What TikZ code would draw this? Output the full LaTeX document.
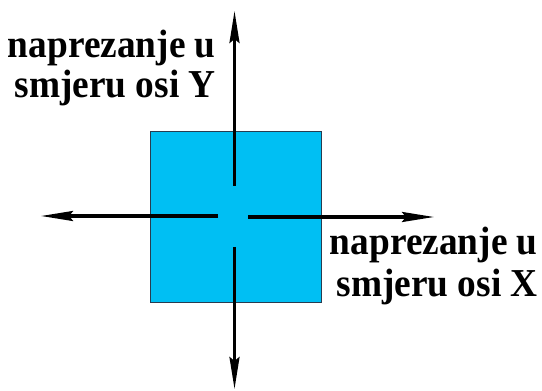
\documentclass[tikz,border=0pt]{standalone}
\usepackage{fontspec}
\setmainfont{Liberation Serif}
\usetikzlibrary{arrows.meta}
\definecolor{sqfill}{RGB}{0,191,243}
\definecolor{sqedge}{RGB}{40,60,80}
\tikzset{
  force/.style={line width=2.3pt, -{Stealth[length=24pt, width=7.5pt, inset=3pt]}},
  lbl/.style={font=\bfseries\fontsize{28}{32}\selectfont, inner sep=0pt, anchor=base east, yscale=1.06},
}
\begin{document}
\begin{tikzpicture}[x=0.75pt, y=-0.75pt]
\useasboundingbox (0,0) rectangle (542,391);
\node[draw=sqedge, fill=sqfill, line width=0.6pt, minimum width=171*0.75pt, minimum height=171*0.75pt, inner sep=0pt, anchor=north west] (sq) at (149.5,131) {};
\coordinate (uS) at (234.5,186);
\coordinate (uE) at (234.5,11);
\coordinate (dS) at (234.5,247);
\coordinate (dE) at (234.5,389);
\coordinate (lS) at (218,216);
\coordinate (lE) at (41,216);
\coordinate (rS) at (248,217);
\coordinate (rE) at (434,217);
\draw[force] (uS) -- (uE);
\draw[force] (dS) -- (dE);
\draw[force] (lS) -- (lE);
\draw[force] (rS) -- (rE);
\node[lbl] (y1) at (216,58) {naprezanje u};
\node[lbl] (y2) at (216,98) {smjeru osi Y};
\node[lbl] (x1) at (538,255) {naprezanje u};
\node[lbl] (x2) at (538,297) {smjeru osi X};
\end{tikzpicture}
\end{document}
